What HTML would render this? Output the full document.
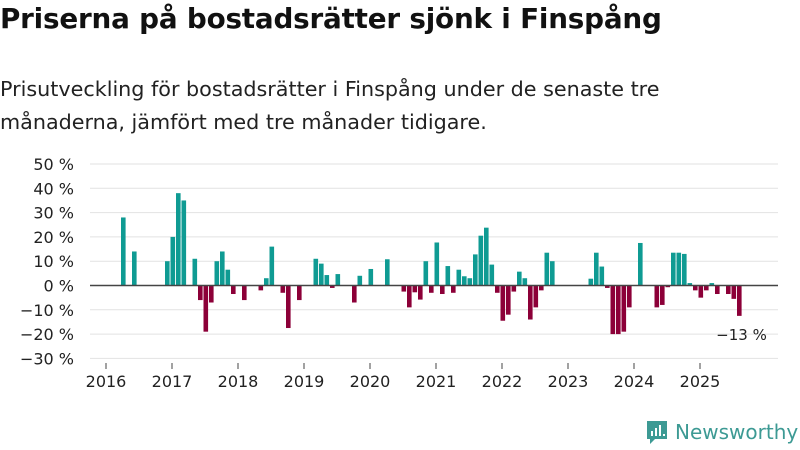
<!DOCTYPE html>
<html><head><meta charset="utf-8">
<style>
body{margin:0;width:800px;height:450px;background:#fff;font-family:"DejaVu Sans","Liberation Sans",sans-serif;color:#111;overflow:hidden;position:relative}
.title{position:absolute;left:0;top:2px;font-size:27.8px;font-weight:bold;letter-spacing:-0.2px}
.sub{position:absolute;left:0;top:73px;font-size:20.7px;line-height:33px;color:#222}
svg{position:absolute;left:0;top:0}
.logo{position:absolute;left:645px;top:419px;display:flex;align-items:center;color:#3d9a94;font-size:20px;font-weight:500}
</style></head><body>
<div class="title">Priserna på bostadsrätter sjönk i Finspång</div>
<div class="sub">Prisutveckling för bostadsrätter i Finspång under de senaste tre<br>månaderna, jämfört med tre månader tidigare.</div>
<svg id="chart" width="800" height="450"></svg>
<div class="logo">
<svg width="24" height="26" style="position:static;margin-right:6px" viewBox="0 0 24 26"><path d="M2 2h20v18H10l-5 5v-5H2z" fill="#3d9a94"/><rect x="6" y="12" width="2" height="5" fill="#fff"/><rect x="10" y="9" width="2" height="8" fill="#fff"/><rect x="14" y="6" width="2" height="11" fill="#fff"/><rect x="18" y="15" width="2" height="2" fill="#fff"/></svg>Newsworthy</div>
<script>
const startYear = 2016;
const yTicks = [50,40,30,20,10,0,-10,-20,-30];
const years = [2016,2017,2018,2019,2020,2021,2022,2023,2024,2025];
// monthly values from Jan 2016 (index 0); null = no data
const values = [
null,null,null,28,null,14,null,null,null,null,null,10,
20,38,35,null,11,-6,-19,-7,10,14,6.5,-3.5,
null,-6,null,null,-2,3,16,null,-3,-17.5,null,-6,
null,null,11,9,4.3,-1,4.7,null,null,-7,4,null,
6.8,null,null,10.8,null,null,-2.5,-9,-2.8,-5.8,10,-3,
17.7,-3.5,8,-3,6.5,3.8,3,12.8,20.5,23.8,8.6,-3,
-14.5,-12,-2.5,5.7,3,-14,-9,-2,13.5,10,null,null,
null,null,null,null,2.8,13.5,7.8,-1,-20,-20,-19,-9,
null,17.5,null,null,-9,-8,-0.7,13.5,13.5,13,1,-2,
-5,-2,1,-3.5,null,-3.5,-5.5,-12.5
];
const lastLabel = "−13 %";
const svg = document.getElementById('chart');
const NS = 'http://www.w3.org/2000/svg';
const y = v => 285.5 - v * 2.43;
const x = i => 106 + i * 5.5;
function mk(t, a){const e=document.createElementNS(NS,t);for(const k in a)e.setAttribute(k,a[k]);svg.appendChild(e);return e;}
yTicks.forEach(t=>{
  const g=mk('line',{x1:90,x2:778,y1:y(t),y2:y(t),stroke:'#e2e2e2','stroke-width':1});
  
  
  const l=mk('text',{x:74,y:y(t)+6,'text-anchor':'end','font-size':16,fill:'#222','font-family':'DejaVu Sans, Liberation Sans, sans-serif'});
  l.textContent=(t<0?'−'+(-t):t)+' %';
  
  
});
values.forEach((v,i)=>{
  if(v===null) return;
  const r=mk('rect',{x:x(i)-1.5,width:4.6,y:Math.min(y(v),y(0)),height:Math.abs(y(v)-y(0)),fill:v>=0?'#0f9b93':'#8c0038'});
  
  
});
const z=mk('line',{x1:90,x2:778,y1:y(0),y2:y(0),stroke:'#444','stroke-width':1.6});


years.forEach(yr=>{
  const xi=x((yr-startYear)*12);
  const t=mk('line',{x1:xi,x2:xi,y1:363,y2:369,stroke:'#444','stroke-width':1});
  
  
  const l=mk('text',{x:xi,y:387,'text-anchor':'middle','font-size':16,fill:'#222','font-family':'DejaVu Sans, Liberation Sans, sans-serif'});
  l.textContent=yr;
  
  
});
const last=values.length-1;
const lab=mk('text',{x:x(last)+3,y:y(values[last])+24,'text-anchor':'middle','font-size':15,fill:'#222','font-family':'DejaVu Sans, Liberation Sans, sans-serif'});
lab.textContent=lastLabel;


</script>
</body></html>
